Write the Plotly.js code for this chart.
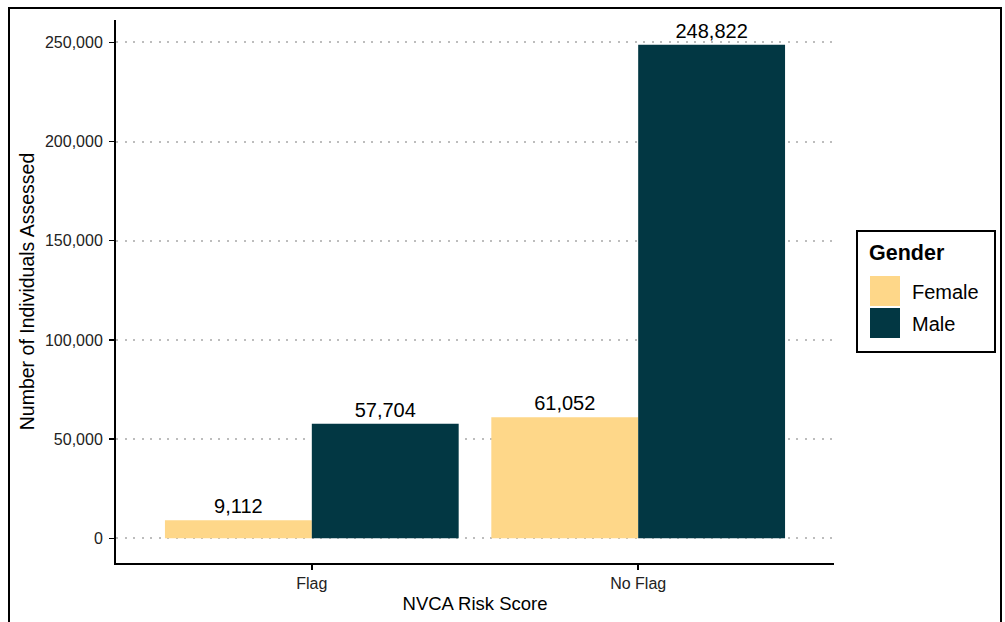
<!DOCTYPE html>
<html>
<head>
<meta charset="utf-8">
<script src="https://cdn.plot.ly/plotly-3.0.1.min.js"></script>
<style>
  html, body { margin: 0; padding: 0; background: #fff; }
  #chart { width: 1005px; height: 622px; position: relative; }
  #frame { position: absolute; left: 8px; top: 7px; width: 994px; height: 700px;
           border: 2px solid #000; box-sizing: border-box; pointer-events: none; }
</style>
</head>
<body>
<div id="chart"></div>
<div id="frame"></div>
<script>
// ---- data ----
const categories = ["Flag", "No Flag"];
const seriesNames = ["Female", "Male"];
const femaleValues = [9112, 61052];
const maleValues = [57704, 248822];
const seriesColors = ["#FED789", "#023743"];
const yTickVals = [0, 50000, 100000, 150000, 200000, 250000];
const yTickText = ["0", "50,000", "100,000", "150,000", "200,000", "250,000"];
const legendTitle = "Gender";
const xTitle = "NVCA Risk Score";
const yTitle = "Number of Individuals Assessed";

// ---- layout geometry ----
const W = 1005, H = 622;
const M = { l: 116, r: 171, t: 20, b: 59 };
const PW = W - M.l - M.r, PH = H - M.t - M.b;
const px = x => (x - M.l) / PW;
const py = y => (H - M.b - y) / PH;
const font = "Liberation Sans, Arial, sans-serif";

const allValues = femaleValues.concat(maleValues);
const maxV = Math.max(...allValues);
const yRange = [-0.05 * maxV, maxV * 1.05];

const seriesValues = [femaleValues, maleValues];
const traces = seriesNames.map((name, i) => ({
  type: "bar",
  name: name,
  x: categories,
  y: seriesValues[i],
  marker: { color: seriesColors[i], line: { width: 0 } },
  text: seriesValues[i].map(v => v.toLocaleString("en-US")),
  textposition: "outside",
  textfont: { family: font, size: 20, color: "#000" },
  cliponaxis: false,
  hoverinfo: "x+y+name"
}));

// custom legend (big swatches like ggplot)
const shapes = [
  { type: "rect", xref: "paper", yref: "paper",
    x0: px(857), x1: px(995), y0: py(352), y1: py(231),
    line: { color: "#000", width: 2 }, fillcolor: "#fff" }
];
const annotations = [
  { xref: "paper", yref: "paper", x: px(867), y: py(253), xanchor: "left", yanchor: "middle",
    text: "<b>" + legendTitle + "</b>", showarrow: false,
    font: { family: font, size: 21.5, color: "#000" } }
];
const swTop = [276, 308];
seriesNames.forEach((name, i) => {
  shapes.push({ type: "rect", xref: "paper", yref: "paper",
    x0: px(870), x1: px(900), y0: py(swTop[i] + 30), y1: py(swTop[i]),
    line: { width: 0 }, fillcolor: seriesColors[i] });
  annotations.push({ xref: "paper", yref: "paper", x: px(910), y: py(swTop[i] + 16),
    xanchor: "left", yanchor: "middle", text: name, showarrow: false,
    font: { family: font, size: 20, color: "#000" } });
});

const layout = {
  width: W, height: H,
  margin: M,
  paper_bgcolor: "#fff", plot_bgcolor: "#fff",
  showlegend: false,
  barmode: "group",
  bargap: 0.1, bargroupgap: 0,
  font: { family: font, color: "#000" },
  xaxis: {
    type: "category",
    range: [-0.6, 1.6],
    showline: true, linecolor: "#000", linewidth: 2,
    ticks: "outside", ticklen: 5, tickwidth: 1.5, tickcolor: "#000",
    tickfont: { family: font, size: 16, color: "#222" },
    showgrid: false, zeroline: false,
    title: { text: xTitle, font: { family: font, size: 18.5, color: "#000" }, standoff: 6 },
    automargin: false, fixedrange: true
  },
  yaxis: {
    range: yRange,
    tickvals: yTickVals, ticktext: yTickText,
    showline: true, linecolor: "#000", linewidth: 2,
    ticks: "outside", ticklen: 5, tickwidth: 1.5, tickcolor: "#000",
    ticklabelstandoff: 3,
    tickfont: { family: font, size: 16, color: "#222" },
    showgrid: true, gridcolor: "#bdbdbd", gridwidth: 2, griddash: "2px,6.5px",
    zeroline: false,
    title: { text: yTitle, font: { family: font, size: 19.5, color: "#000" }, standoff: 5 },
    automargin: false, fixedrange: true
  },
  shapes: shapes,
  annotations: annotations
};

Plotly.newPlot("chart", traces, layout, { displayModeBar: false, staticPlot: true });
</script>
</body>
</html>
